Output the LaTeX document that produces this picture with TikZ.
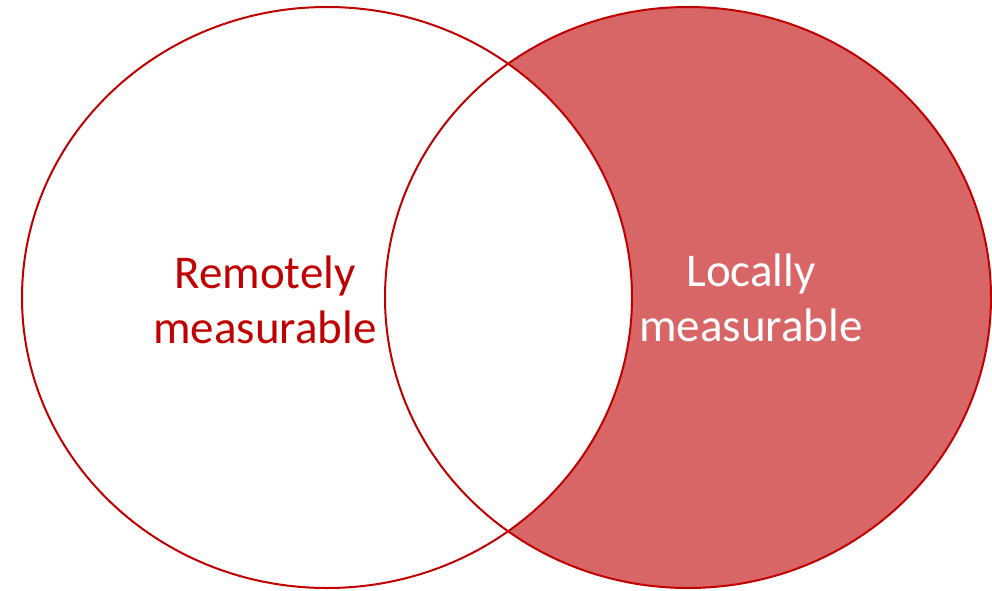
\documentclass[tikz,border=0pt]{standalone}
\usepackage{fontspec}
\setmainfont{Carlito}
\usepackage{tikz}
\usetikzlibrary{positioning}
\definecolor{vennred}{RGB}{192,0,0}
\definecolor{vennfill}{RGB}{217,102,102}

\tikzset{
    setline/.style={draw=vennred, line width=2pt},
    setlabel/.style={font=\fontsize{47}{55}\selectfont, align=center, inner sep=0pt}
}

\begin{document}
\begin{tikzpicture}[x=1pt, y=1pt]
\useasboundingbox (0,0) rectangle (992,590);

\coordinate (remote) at (327,292.5);
\coordinate (local) at (688,292.5);

% filled right set, intersection left white
\fill[vennfill] (local) ellipse [x radius=303, y radius=290.5];
\begin{scope}
    \clip (remote) ellipse [x radius=305, y radius=290.5];
    \fill[white] (local) ellipse [x radius=303, y radius=290.5];
\end{scope}

% outlines
\draw[setline] (remote) ellipse [x radius=305, y radius=290.5];
\draw[setline] (local) ellipse [x radius=303, y radius=290.5];

% labels
\node[setlabel, text=vennred] (remotelabel) at (265,290) {Remotely\\measurable};
\node[setlabel, text=white] (locallabel) at (751,292) {Locally\\measurable};

\end{tikzpicture}
\end{document}
